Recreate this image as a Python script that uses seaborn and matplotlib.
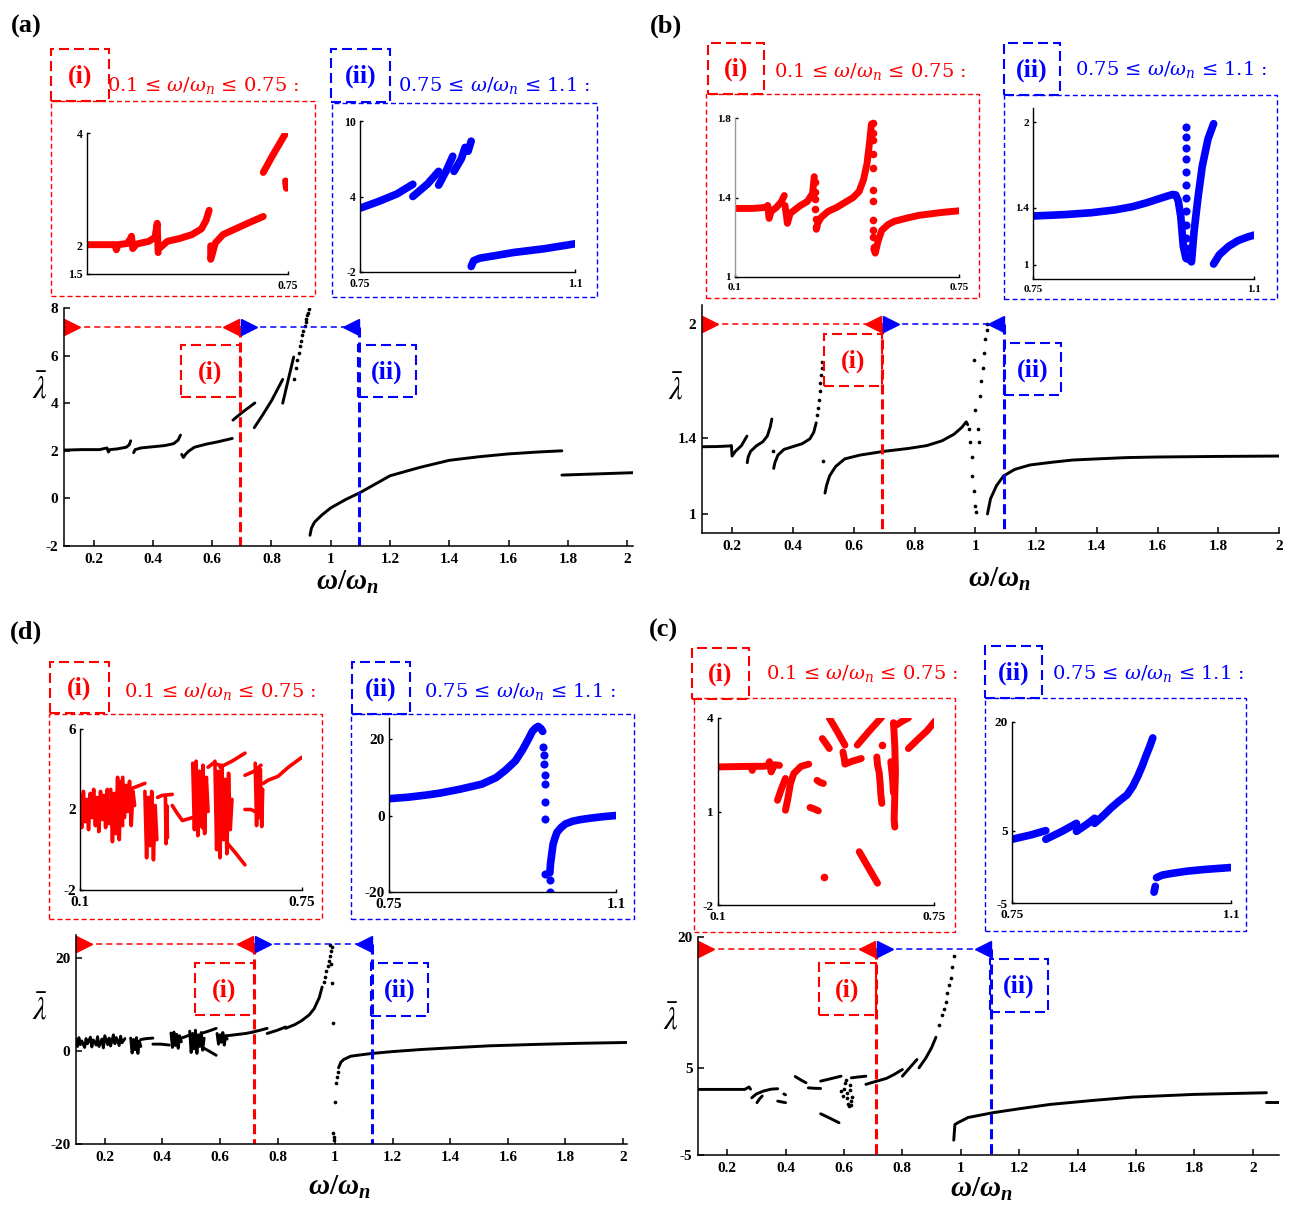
import pandas as pd
import matplotlib
matplotlib.use('Agg')
import matplotlib.pyplot as plt
import matplotlib.transforms as mtransforms
from matplotlib.patches import Rectangle
import seaborn as sns

W, H = 1296, 1207
RED, BLUE = '#ff0000', '#0000ff'

# ---------------- panel (a) ----------------
a_main_x = [
    [0.10, 0.16, 0.22, 0.245, 0.25, 0.255, 0.28, 0.31, 0.32, 0.325],
    [0.335, 0.34, 0.36, 0.40, 0.44, 0.47, 0.485, 0.493],
    [0.497, 0.503, 0.51, 0.52, 0.54, 0.58, 0.62, 0.668],
    [0.67, 0.70, 0.744],
    [0.742, 0.77, 0.80, 0.838],
    [0.838, 0.855, 0.875],
    [0.93, 0.935, 0.945, 0.97, 1.0, 1.05, 1.1, 1.15, 1.2, 1.3, 1.4, 1.5, 1.6, 1.7, 1.78],
    [1.78, 1.9, 2.02],
]
a_main_y = [
    [2.03, 2.05, 2.05, 2.12, 1.95, 2.05, 2.08, 2.15, 2.25, 2.42],
    [1.92, 2.05, 2.12, 2.17, 2.22, 2.30, 2.45, 2.66],
    [1.85, 1.72, 1.85, 1.98, 2.15, 2.28, 2.38, 2.52],
    [3.29, 3.60, 4.01],
    [2.97, 3.50, 4.10, 5.00],
    [4.00, 4.90, 5.94],
    [-1.55, -1.25, -1.0, -0.7, -0.4, -0.05, 0.25, 0.6, 0.95, 1.3, 1.6, 1.75, 1.87, 1.95, 2.0],
    [0.98, 1.03, 1.08],
]
a_dots_x = [0.876, 0.882, 0.887, 0.892, 0.896, 0.900, 0.904, 0.908, 0.912, 0.915, 0.918, 0.921, 0.924, 0.927]
a_dots_y = [5.0, 5.5, 5.8, 6.1, 6.4, 6.6, 6.85, 7.05, 7.25, 7.4, 7.55, 7.7, 7.8, 7.95]

a_in1_x = [
    [0.10, 0.15, 0.19, 0.195, 0.20, 0.23, 0.24, 0.244, 0.248, 0.26, 0.30, 0.32, 0.327, 0.33],
    [0.333, 0.36, 0.40, 0.44, 0.47, 0.485, 0.495],
    [0.50, 0.50, 0.505, 0.515, 0.54, 0.58, 0.62, 0.67],
    [0.67, 0.70, 0.743],
    [0.742, 0.745],
]
a_in1_y = [
    [2.02, 2.02, 2.02, 1.93, 2.02, 2.04, 2.12, 2.17, 1.95, 2.03, 2.08, 2.15, 2.40, 1.88],
    [1.95, 2.08, 2.13, 2.20, 2.30, 2.45, 2.63],
    [2.00, 1.76, 1.85, 2.05, 2.20, 2.30, 2.40, 2.52],
    [3.30, 3.60, 4.00],
    [3.15, 3.02],
]
a_in2_x = [
    [0.75, 0.78, 0.81, 0.836],
    [0.836, 0.86, 0.878],
    [0.878, 0.89, 0.901],
    [0.903, 0.915, 0.921, 0.926, 0.931],
    [0.931, 0.935, 0.945, 0.97, 1.0, 1.05, 1.1],
]
a_in2_y = [
    [3.07, 3.6, 4.2, 4.97],
    [4.0, 5.0, 6.0],
    [4.9, 6.0, 7.2],
    [6.0, 7.0, 7.9, 7.6, 8.4],
    [-1.56, -1.1, -0.9, -0.7, -0.45, -0.15, 0.24],
]

# ---------------- panel (b) ----------------
b_main_x = [
    [0.10, 0.15, 0.19, 0.197, 0.199, 0.21, 0.23, 0.248],
    [0.249, 0.252, 0.26, 0.28, 0.30, 0.315, 0.325, 0.33],
    [0.336, 0.34, 0.35, 0.37, 0.40, 0.43, 0.455, 0.468, 0.476],
    [0.505, 0.51, 0.52, 0.54, 0.57, 0.62, 0.70, 0.78, 0.84, 0.89, 0.93, 0.955, 0.97, 0.975],
    [1.04, 1.05, 1.07, 1.093, 1.13, 1.18, 1.25, 1.32, 1.40, 1.50, 1.60, 1.80, 2.0],
]
b_main_y = [
    [1.354, 1.355, 1.358, 1.36, 1.305, 1.33, 1.36, 1.41],
    [1.27, 1.30, 1.33, 1.36, 1.38, 1.41, 1.46, 1.50],
    [1.24, 1.27, 1.31, 1.34, 1.355, 1.37, 1.395, 1.43, 1.48],
    [1.11, 1.15, 1.20, 1.25, 1.29, 1.31, 1.33, 1.345, 1.36, 1.385, 1.42, 1.455, 1.485, 1.47],
    [1.0, 1.08, 1.15, 1.20, 1.235, 1.258, 1.272, 1.284, 1.29, 1.297, 1.30, 1.303, 1.305],
]
b_dots_x = [0.333, 0.479, 0.482, 0.485, 0.488, 0.490, 0.492, 0.494, 0.496, 0.500,
            0.978, 0.984, 0.988, 0.990, 0.995, 0.999, 1.003,
            0.995, 1.000, 1.008, 1.013, 1.017, 1.020, 1.024, 1.028, 1.033, 1.037, 1.040]
b_dots_y = [1.33, 1.52, 1.56, 1.60, 1.65, 1.69, 1.73, 1.77, 1.80, 1.28,
            1.45, 1.38, 1.30, 1.20, 1.12, 1.04, 1.01,
            1.81, 1.55, 1.45, 1.38, 1.62, 1.70, 1.77, 1.85, 1.92, 1.97, 2.0]

b_in1_x = [
    [0.10, 0.15, 0.19, 0.195, 0.199, 0.205, 0.22, 0.235, 0.243],
    [0.245, 0.25, 0.252, 0.26, 0.29, 0.31, 0.325, 0.33],
    [0.336, 0.34, 0.35, 0.37, 0.395, 0.443, 0.46, 0.473, 0.483, 0.49, 0.496],
    [0.503, 0.507, 0.515, 0.526, 0.545, 0.562, 0.60, 0.633, 0.70, 0.75],
]
b_in1_y = [
    [1.345, 1.345, 1.35, 1.36, 1.295, 1.33, 1.35, 1.38, 1.41],
    [1.36, 1.30, 1.27, 1.32, 1.36, 1.38, 1.42, 1.505],
    [1.24, 1.27, 1.30, 1.33, 1.35, 1.40, 1.43, 1.49, 1.57, 1.67, 1.77],
    [1.14, 1.12, 1.18, 1.235, 1.265, 1.28, 1.297, 1.31, 1.325, 1.333],
]
b_in1_dots_x = [0.331, 0.332, 0.332, 0.333, 0.334, 0.335,
                0.50, 0.50, 0.50, 0.50, 0.50, 0.50, 0.50, 0.50, 0.50, 0.501, 0.502]
b_in1_dots_y = [1.48, 1.43, 1.39, 1.34, 1.29, 1.25,
                1.774, 1.724, 1.69, 1.62, 1.547, 1.438, 1.38, 1.286, 1.236, 1.20, 1.15]
b_in2_x = [
    [0.75, 0.80, 0.842, 0.88, 0.907, 0.93, 0.946, 0.96, 0.971, 0.976, 0.980, 0.984, 0.988, 0.992],
    [0.997, 1.001, 1.005, 1.011, 1.018, 1.027, 1.036],
    [1.036, 1.045, 1.06, 1.075, 1.09, 1.102],
]
b_in2_y = [
    [1.342, 1.352, 1.365, 1.385, 1.407, 1.435, 1.458, 1.478, 1.493, 1.49, 1.45, 1.34, 1.13, 1.05],
    [1.04, 1.02, 1.23, 1.46, 1.69, 1.88, 1.99],
    [1.005, 1.07, 1.13, 1.17, 1.195, 1.21],
]
b_in2_dots_x = [0.993, 0.993, 0.993, 0.993, 0.993, 0.993, 0.993, 0.993, 0.993, 0.993, 0.993, 0.993]
b_in2_dots_y = [1.97, 1.90, 1.82, 1.74, 1.65, 1.56, 1.47, 1.38, 1.28, 1.19, 1.12, 1.05]

# ---------------- panel (d) ----------------
d_main_x = [
    [0.10, 0.105, 0.11, 0.115, 0.12, 0.13, 0.135, 0.14, 0.15, 0.155, 0.16, 0.17, 0.175, 0.18,
     0.19, 0.195, 0.20, 0.21, 0.215, 0.22, 0.23, 0.235, 0.24, 0.25, 0.255, 0.26, 0.27],
    [0.29, 0.295, 0.30, 0.305, 0.31, 0.315, 0.32, 0.325],
    [0.325, 0.345, 0.367],
    [0.367, 0.395, 0.424],
    [0.43, 0.435, 0.44, 0.445, 0.45, 0.455, 0.46, 0.466],
    [0.466, 0.48, 0.495],
    [0.495, 0.50, 0.505, 0.51, 0.515, 0.52, 0.525, 0.53, 0.535, 0.54, 0.545],
    [0.545, 0.565, 0.587],
    [0.54, 0.565, 0.587],
    [0.59, 0.595, 0.60, 0.605, 0.61, 0.615, 0.62, 0.625],
    [0.61, 0.65, 0.69, 0.714],
    [0.714, 0.74, 0.764],
    [0.764, 0.80, 0.828],
    [0.828, 0.86, 0.885, 0.91, 0.927, 0.945, 0.955],
    [1.012, 1.02, 1.03, 1.054, 1.09, 1.128, 1.2, 1.3, 1.4, 1.536, 1.7, 1.85, 2.014],
]
d_main_y = [
    [2.6, 1.0, 2.9, 1.4, 2.2, 0.8, 2.7, 1.6, 3.0, 0.9, 2.4, 1.3, 3.1, 1.0,
     2.6, 0.7, 3.3, 1.4, 2.8, 1.1, 3.5, 1.6, 2.9, 1.2, 3.2, 1.8, 2.7],
    [2.8, -0.4, 2.5, 0.3, 2.9, -0.5, 2.2, 1.0],
    [2.5, 2.7, 2.8],
    [1.5, 1.5, 1.3],
    [3.9, 0.8, 4.1, 1.2, 3.6, 0.6, 3.3, 2.0],
    [2.8, 3.1, 3.5],
    [4.3, -0.3, 3.8, 0.5, 4.5, -0.5, 3.5, 1.0, 4.0, 0.2, 2.8],
    [0.6, -0.1, -0.9],
    [3.9, 4.4, 4.9],
    [3.8, 1.5, 3.5, 1.9, 4.0, 1.3, 3.3, 2.6],
    [3.2, 3.5, 3.8, 4.1],
    [4.1, 4.5, 4.9],
    [3.8, 4.5, 5.2],
    [4.9, 5.7, 6.6, 7.8, 9.1, 11.5, 13.8],
    [-3.6, -2.4, -1.8, -1.1, -0.8, -0.5, -0.1, 0.35, 0.7, 1.14, 1.45, 1.68, 1.86],
]
d_dots_x = [0.96, 0.965, 0.97, 0.975, 0.978, 0.982, 0.985, 0.988, 0.987, 0.99, 0.991, 0.984,
            0.994, 0.995, 0.996, 1.0, 1.003, 1.006, 1.01]
d_dots_y = [14.8, 16.0, 17.2, 18.4, 19.5, 20.5, 21.5, 22.4, 18.8, 14.6, 6.1, 22.9,
            -17.6, -18.5, -19.1, -10.9, -6.9, -5.5, -4.4]

d_in1_x = [
    [0.10, 0.105, 0.11, 0.115, 0.12, 0.125, 0.13, 0.135, 0.14, 0.145, 0.15, 0.155, 0.16, 0.165,
     0.17, 0.175, 0.18, 0.185, 0.19],
    [0.19, 0.195, 0.20, 0.205, 0.21, 0.215, 0.22, 0.225],
    [0.225, 0.23, 0.235, 0.24, 0.245, 0.25, 0.255, 0.26],
    [0.23, 0.26, 0.29],
    [0.29, 0.295, 0.30, 0.305, 0.31, 0.315, 0.32, 0.325],
    [0.327, 0.34, 0.37],
    [0.35, 0.352, 0.354, 0.356],
    [0.37, 0.385, 0.40, 0.43, 0.465],
    [0.43, 0.435, 0.44, 0.445, 0.45, 0.455, 0.46, 0.465, 0.47, 0.475],
    [0.475, 0.49, 0.51],
    [0.495, 0.50, 0.505, 0.51, 0.515, 0.52, 0.525, 0.53, 0.535, 0.54, 0.545],
    [0.51, 0.545, 0.583],
    [0.53, 0.555, 0.583],
    [0.583, 0.61, 0.63],
    [0.583, 0.60, 0.613],
    [0.613, 0.617, 0.62, 0.624, 0.628, 0.632, 0.635],
    [0.637, 0.65, 0.68, 0.71, 0.75],
]
d_in1_y = [
    [2.7, 1.1, 2.9, 1.4, 2.5, 1.0, 2.8, 1.6, 3.0, 1.2, 2.6, 0.9, 2.9, 1.5,
     2.7, 1.1, 3.0, 1.3, 2.4],
    [3.0, 0.4, 2.8, 0.8, 3.6, 0.5, 3.4, 1.2],
    [3.6, 1.6, 3.2, 1.9, 3.4, 1.2, 2.9, 2.2],
    [2.9, 3.1, 3.3],
    [2.9, -0.4, 2.6, 0.2, 2.9, -0.5, 2.2, 0.5],
    [2.6, 2.7, 2.75],
    [2.7, 0.3, 2.2, 0.6],
    [2.2, 1.8, 1.45, 1.6, 1.0],
    [4.3, 1.0, 4.4, 0.7, 3.9, 1.3, 4.2, 0.8, 3.6, 1.9],
    [4.1, 4.3, 4.2],
    [4.4, 0.0, 3.9, -0.4, 4.2, 0.5, 3.5, -0.2, 3.8, 1.0, 2.5],
    [4.1, 4.4, 4.8],
    [0.35, -0.15, -0.75],
    [3.7, 3.9, 4.2],
    [2.0, 2.0, 1.9],
    [4.3, 1.2, 3.9, 1.6, 4.0, 1.15, 3.0],
    [3.3, 3.45, 3.65, 4.1, 4.6],
]
d_in2_x = [
    [0.75, 0.78, 0.81, 0.83, 0.86, 0.893, 0.915, 0.93, 0.945, 0.956, 0.965, 0.971, 0.976, 0.98, 0.984, 0.987],
    [0.998, 0.999, 1.001, 1.003, 1.006, 1.009, 1.015, 1.022, 1.033, 1.044, 1.06, 1.08, 1.1],
]
d_in2_y = [
    [4.4, 4.8, 5.4, 5.9, 6.9, 8.2, 9.9, 11.9, 14.3, 17.2, 20.0, 22.0, 22.9, 23.3, 22.8, 22.0],
    [-15.0, -12.7, -10.0, -7.5, -5.8, -4.4, -3.2, -2.2, -1.5, -1.1, -0.7, -0.3, 0.0],
]
d_in2_dots_x = [0.987, 0.989, 0.989, 0.990, 0.990, 0.991, 0.991, 0.991, 0.998, 0.998]
d_in2_dots_y = [18.0, 15.8, 13.6, 10.5, 8.3, 3.5, -1.0, -15.3, -16.9, -20.1]

# ---------------- panel (c) ----------------
c_main_x = [
    [0.10, 0.18, 0.26, 0.275, 0.28],
    [0.284, 0.30, 0.324, 0.35, 0.373],
    [0.302, 0.31, 0.32],
    [0.373, 0.385, 0.40],
    [0.394, 0.40],
    [0.433, 0.45, 0.47],
    [0.478, 0.50, 0.52],
    [0.52, 0.55, 0.583],
    [0.52, 0.555, 0.59],
    [0.625, 0.65, 0.675],
    [0.675, 0.70, 0.745, 0.77, 0.80],
    [0.80, 0.825, 0.85],
    [0.857, 0.88, 0.90, 0.915],
    [0.976, 0.978, 0.98, 0.99, 1.025, 1.11, 1.2, 1.306, 1.45, 1.587, 1.8, 2.047],
    [2.047, 2.07, 2.09],
]
c_main_y = [
    [2.52, 2.52, 2.52, 2.8, 2.55],
    [1.56, 2.0, 2.33, 2.55, 2.6],
    [1.0, 1.4, 1.76],
    [1.18, 1.1, 1.0],
    [2.0, 1.9],
    [4.0, 3.65, 3.28],
    [2.7, 2.65, 2.63],
    [-0.27, -0.75, -1.3],
    [3.47, 3.75, 4.04],
    [3.85, 3.95, 4.04],
    [3.1, 3.35, 3.78, 4.2, 4.8],
    [4.04, 5.0, 5.95],
    [5.0, 6.1, 7.3, 8.5],
    [-3.3, -2.4, -1.5, -1.3, -0.7, -0.15, 0.3, 0.8, 1.25, 1.64, 1.95, 2.14],
    [1.07, 1.07, 1.07],
]
c_dots_x = [0.59, 0.595, 0.60, 0.603, 0.606, 0.61, 0.612, 0.615, 0.618, 0.62, 0.622, 0.625, 0.625, 0.628,
            0.927, 0.935, 0.942, 0.948, 0.954, 0.96, 0.966, 0.971, 0.976]
c_dots_y = [2.3, 1.8, 2.6, 3.2, 3.6, 2.1, 1.5, 0.9, 0.6, 3.0, 2.4, 1.2, 0.7, 1.7,
            9.96, 11.0, 11.8, 12.6, 13.6, 14.5, 15.3, 16.6, 17.8]

c_in1_x = [
    [0.10, 0.15, 0.20, 0.203, 0.206, 0.235, 0.25, 0.255, 0.26, 0.27, 0.285],
    [0.279, 0.29, 0.303],
    [0.303, 0.31, 0.318, 0.328, 0.35, 0.373],
    [0.398, 0.408, 0.417],
    [0.377, 0.39, 0.402],
    [0.414, 0.425, 0.435],
    [0.435, 0.46, 0.482],
    [0.476, 0.48, 0.482, 0.50, 0.531],
    [0.519, 0.555, 0.593],
    [0.525, 0.55, 0.58],
    [0.578, 0.58, 0.585, 0.588, 0.59, 0.593],
    [0.628, 0.63, 0.632, 0.633, 0.634, 0.633, 0.632, 0.631, 0.63, 0.632],
    [0.62, 0.625, 0.628],
    [0.636, 0.655, 0.673],
    [0.673, 0.70, 0.73, 0.753],
]
c_in1_y = [
    [2.43, 2.44, 2.45, 2.32, 2.45, 2.45, 2.47, 2.6, 2.27, 2.5, 2.48],
    [1.36, 1.7, 2.06],
    [1.04, 1.4, 1.9, 2.22, 2.45, 2.52],
    [2.0, 1.93, 1.9],
    [1.13, 1.08, 1.02],
    [3.34, 3.18, 3.02],
    [4.0, 3.55, 3.13],
    [2.91, 2.7, 2.52, 2.6, 2.7],
    [3.13, 3.58, 4.03],
    [-0.29, -0.75, -1.3],
    [2.75, 2.5, 2.25, 1.9, 1.55, 1.26],
    [3.85, 3.5, 3.1, 2.7, 2.3, 1.9, 1.5, 1.1, 0.75, 0.5],
    [2.6, 2.1, 1.6],
    [3.77, 3.9, 4.0],
    [3.02, 3.3, 3.6, 3.9],
]
c_in1_dots_x = [0.418, 0.595]
c_in1_dots_y = [-1.09, 3.13]
c_in2_x = [
    [0.75, 0.78, 0.804],
    [0.804, 0.83, 0.853],
    [0.853, 0.87, 0.882],
    [0.882, 0.895, 0.908, 0.92, 0.934, 0.943, 0.951, 0.958, 0.964, 0.97, 0.975],
    [0.977, 0.979],
    [0.981, 0.99, 1.006, 1.03, 1.06, 1.1],
]
c_in2_y = [
    [3.8, 4.4, 5.0],
    [3.8, 4.9, 6.0],
    [4.9, 5.9, 6.7],
    [6.0, 7.0, 8.1, 9.0, 9.95, 11.1, 12.5, 13.9, 15.3, 16.6, 17.8],
    [-3.5, -2.7],
    [-1.5, -1.15, -0.9, -0.6, -0.35, -0.1],
]

main_xticks = [0.2, 0.4, 0.6, 0.8, 1.0, 1.2, 1.4, 1.6, 1.8, 2.0]

# ---------------- drawing ----------------
sns.set_style('ticks')
plt.rcParams['font.family'] = ['Liberation Serif', 'DejaVu Serif']
plt.rcParams['text.color'] = 'black'
plt.rcParams['mathtext.fontset'] = 'stix'
plt.rcParams['mathtext.it'] = 'Liberation Serif:italic:bold'
plt.rcParams['mathtext.rm'] = 'Liberation Serif:bold'
plt.rcParams['mathtext.bf'] = 'Liberation Serif:bold'

fig = plt.figure(figsize=(W / 100, H / 100), dpi=100)


def add_ax(l, t, r, b):
    return fig.add_axes([l / W, 1 - b / H, (r - l) / W, (b - t) / H])


def box(l, t, r, b, color, lw, dash):
    fig.add_artist(Rectangle((l / W, 1 - b / H), (r - l) / W, (b - t) / H,
                             transform=fig.transFigure, fill=False, edgecolor=color,
                             lw=lw, linestyle=(0, dash)))


def ftext(x, y, s, **kw):
    fig.text(x / W, 1 - y / H, s, **kw)


def draw_lines(ax, xs, ys, color, lw):
    df = pd.DataFrame({
        'seg': [i for i, seg in enumerate(xs) for _ in seg],
        'x': [v for seg in xs for v in seg],
        'y': [v for seg in ys for v in seg],
    })
    sns.lineplot(data=df, x='x', y='y', units='seg', estimator=None, sort=False,
                 color=color, lw=lw, solid_capstyle='round', solid_joinstyle='round', ax=ax)


def draw_dots(ax, xs, ys, color, s):
    sns.scatterplot(x=xs, y=ys, color=color, s=s, linewidth=0, ax=ax)


def style_ax(ax, xlim, ylim, xt, yt, fs, tlen, padx, pady, lw=1.0):
    ax.set_xlim(*xlim)
    ax.set_ylim(*ylim)
    ax.set_xticks(xt, [f'{v:g}' for v in xt])
    ax.set_yticks(yt, [f'{v:g}' for v in yt])
    ax.set_xlabel('')
    ax.set_ylabel('')
    sns.despine(ax=ax)
    ax.tick_params(direction='in', length=tlen, width=lw, labelsize=fs, colors='k')
    ax.tick_params(axis='x', pad=padx)
    ax.tick_params(axis='y', pad=pady)
    for t in ax.get_xticklabels() + ax.get_yticklabels():
        t.set_fontweight('bold')
        t.set_fontfamily('Liberation Serif')
    for s in ('left', 'bottom'):
        ax.spines[s].set_linewidth(lw)
        ax.spines[s].set_color('k')
    ax.patch.set_visible(False)


def ranges(ax, y, x0, xr, xb):
    ymin = ax.get_ylim()[0]
    ax.plot([x0, xr], [y, y], color=RED, lw=1.1, ls=(0, (4, 2.6)))
    ax.plot([xr, xb], [y, y], color=BLUE, lw=1.1, ls=(0, (4, 2.6)))
    ax.plot([xr, xr], [y, ymin], color=RED, lw=2.2, ls=(0, (3.3, 1.6)))
    ax.plot([xb, xb], [y, ymin], color=BLUE, lw=2.2, ls=(0, (3.3, 1.6)))
    for x, m, dx, c in [(x0, '>', 8, RED), (xr, '<', -9, RED), (xr, '>', 9, BLUE), (xb, '<', -8, BLUE)]:
        tr = mtransforms.offset_copy(ax.transData, fig=fig, x=dx, y=0, units='dots')
        ax.plot([x], [y], marker=m, ms=11, color=c, mec=c, transform=tr, clip_on=False)


def label_box(l, t, r, b, txt, color):
    box(l, t, r, b, color, 1.5, (4.8, 2.4))
    ftext((l + r) / 2, (t + b) / 2 + 1, txt, color=color, fontsize=18.5, fontweight='bold',
          fontfamily='Liberation Serif', ha='center', va='center')


panels = [
    dict(letter='(a)', letter_xy=(26, 26),
         main=(64, 308, 633, 546), xlim=(0.1, 2.02), ylim=(-2, 8), yticks=[-2, 0, 2, 4, 6, 8],
         segs=(a_main_x, a_main_y), dots=(a_dots_x, a_dots_y),
         arrow_y=7.2, xr=0.693, xb=1.095,
         mbox_i=(181, 345, 240, 397), mbox_ii=(358, 345, 416, 397),
         ylab=(40, 390), xlab=(347, 582),
         lbox_i=(51, 49, 109, 101), lbox_ii=(331, 49, 390, 102),
         txt_i=(107, 86), txt_ii=(398, 86),
         frame_i=(51, 101, 315, 296), frame_ii=(332, 103, 597, 297),
         ax_i=(87, 133, 288, 274), ax_ii=(360, 121, 575, 272),
         lim_i=(1.5, 4), lim_ii=(-2, 10), yt_i=[1.5, 2, 4], yt_ii=[-2, 4, 10],
         xt_i=[0.75], in_fs=8.5,
         in_i=(a_in1_x, a_in1_y), in_ii=(a_in2_x, a_in2_y), in_i_dots=None, in_ii_dots=None),
    dict(letter='(b)', letter_xy=(666, 26),
         main=(702, 305, 1279, 533), xlim=(0.1, 2.0), ylim=(0.9, 2.1), yticks=[1, 1.4, 2],
         segs=(b_main_x, b_main_y), dots=(b_dots_x, b_dots_y),
         arrow_y=2.0, xr=0.694, xb=1.093,
         mbox_i=(824, 334, 882, 386), mbox_ii=(1004, 343, 1061, 395),
         ylab=(676, 391), xlab=(999, 579),
         lbox_i=(708, 43, 764, 94), lbox_ii=(1004, 43, 1060, 95),
         txt_i=(774, 72), txt_ii=(1075, 70),
         frame_i=(706, 94, 979, 298), frame_ii=(1004, 95, 1277, 299),
         ax_i=(735, 118, 959, 277), ax_ii=(1033, 108, 1254, 279),
         lim_i=(1, 1.8), lim_ii=(0.9, 2.1), yt_i=[1, 1.4, 1.8], yt_ii=[1, 1.4, 2],
         xt_i=[0.1, 0.75], in_fs=8,
         in_i=(b_in1_x, b_in1_y), in_ii=(b_in2_x, b_in2_y),
         in_i_dots=(b_in1_dots_x, b_in1_dots_y), in_ii_dots=(b_in2_dots_x, b_in2_dots_y)),
    dict(letter='(d)', letter_xy=(26, 632),
         main=(76, 935, 627, 1144), xlim=(0.1, 2.014), ylim=(-20, 25), yticks=[-20, 0, 20],
         segs=(d_main_x, d_main_y), dots=(d_dots_x, d_dots_y),
         arrow_y=23, xr=0.718, xb=1.128,
         mbox_i=(195, 963, 254, 1015), mbox_ii=(371, 963, 428, 1016),
         ylab=(40, 1011), xlab=(339, 1187),
         lbox_i=(50, 662, 109, 713), lbox_ii=(352, 662, 410, 714),
         txt_i=(124, 691), txt_ii=(424, 691),
         frame_i=(49, 714, 322, 919), frame_ii=(351, 714, 634, 919),
         ax_i=(80, 729, 302, 890), ax_ii=(389, 718, 616, 892),
         lim_i=(-2, 6), lim_ii=(-20, 25.5), yt_i=[-2, 2, 6], yt_ii=[-20, 0, 20],
         xt_i=[0.1, 0.75], in_fs=11,
         in_i=(d_in1_x, d_in1_y), in_ii=(d_in2_x, d_in2_y),
         in_i_dots=None, in_ii_dots=(d_in2_dots_x, d_in2_dots_y)),
    dict(letter='(c)', letter_xy=(663, 630),
         main=(698, 937, 1279, 1155), xlim=(0.1, 2.09), ylim=(-5, 20), yticks=[-5, 5, 20],
         segs=(c_main_x, c_main_y), dots=(c_dots_x, c_dots_y),
         arrow_y=18.66, xr=0.711, xb=1.105,
         mbox_i=(819, 963, 876, 1015), mbox_ii=(990, 959, 1048, 1012),
         ylab=(671, 1021), xlab=(981, 1189),
         lbox_i=(692, 648, 749, 699), lbox_ii=(985, 646, 1042, 698),
         txt_i=(766, 674), txt_ii=(1052, 673),
         frame_i=(694, 698, 955, 932), frame_ii=(985, 698, 1246, 931),
         ax_i=(718, 718, 934, 905), ax_ii=(1012, 722, 1231, 903),
         lim_i=(-2, 4), lim_ii=(-5, 20), yt_i=[-2, 1, 4], yt_ii=[-5, 5, 20],
         xt_i=[0.1, 0.75], in_fs=9.5,
         in_i=(c_in1_x, c_in1_y), in_ii=(c_in2_x, c_in2_y),
         in_i_dots=(c_in1_dots_x, c_in1_dots_y), in_ii_dots=None),
]

for p in panels:
    # main axis
    ax = add_ax(*p['main'])
    draw_lines(ax, *p['segs'], 'k', 2.1)
    draw_dots(ax, *p['dots'], 'k', 7)
    style_ax(ax, p['xlim'], p['ylim'], main_xticks, p['yticks'], 11, 4, 5, 4, lw=1.1)
    ranges(ax, p['arrow_y'], 0.1, p['xr'], p['xb'])
    label_box(*p['mbox_i'], '(i)', RED)
    label_box(*p['mbox_ii'], '(ii)', BLUE)
    ftext(*p['ylab'], r'$\bar{\lambda}$', fontsize=22, math_fontfamily='stix',
          color='black', ha='center', va='center')
    ftext(*p['xlab'], r'$\omega/\omega_n$', fontsize=21, math_fontfamily='custom',
          color='black', ha='center', va='center')
    ftext(*p['letter_xy'], p['letter'], fontsize=19, fontweight='bold',
          fontfamily='Liberation Serif', color='black', ha='center', va='center')

    # header boxes and range texts
    label_box(*p['lbox_i'], '(i)', RED)
    label_box(*p['lbox_ii'], '(ii)', BLUE)
    ftext(*p['txt_i'], '0.1 ≤ $\\omega/\\omega_n$ ≤ 0.75 :', color=RED, fontsize=14,
          fontfamily='DejaVu Serif', math_fontfamily='dejavuserif', ha='left', va='center')
    ftext(*p['txt_ii'], '0.75 ≤ $\\omega/\\omega_n$ ≤ 1.1 :', color=BLUE, fontsize=14,
          fontfamily='DejaVu Serif', math_fontfamily='dejavuserif', ha='left', va='center')
    box(*p['frame_i'], RED, 1.0, (3.6, 2.2))
    box(*p['frame_ii'], BLUE, 1.0, (3.6, 2.2))

    # inset (i)
    lw_i = 2.6 if p['letter'] == '(d)' else 5
    ai = add_ax(*p['ax_i'])
    draw_lines(ai, *p['in_i'], RED, lw_i)
    if p['in_i_dots']:
        draw_dots(ai, *p['in_i_dots'], RED, 30)
    style_ax(ai, (0.1, 0.75), p['lim_i'], p['xt_i'], p['yt_i'], p['in_fs'], 2.5, 4, 3)
    if p['letter'] == '(b)':
        ai.spines['left'].set_color('#999999')

    # inset (ii)
    aii = add_ax(*p['ax_ii'])
    draw_lines(aii, *p['in_ii'], BLUE, 5.5)
    if p['in_ii_dots']:
        draw_dots(aii, *p['in_ii_dots'], BLUE, 34)
    style_ax(aii, (0.75, 1.1), p['lim_ii'], [0.75, 1.1], p['yt_ii'], p['in_fs'], 2.5, 4, 3)

fig.savefig('out.png', dpi=100)
